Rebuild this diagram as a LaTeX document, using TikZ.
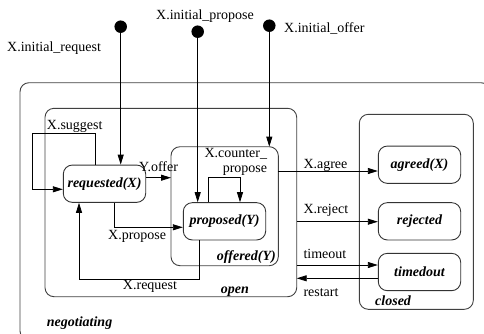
\documentclass[tikz,border=0pt]{standalone}
\usepackage{fontspec}
\setmainfont{Liberation Serif}
\usetikzlibrary{arrows.meta}
\begin{document}
\begin{tikzpicture}[x=1pt,y=-1pt,
  every node/.style={font=\fontsize{14}{15}\selectfont, inner sep=0pt},
  boxline/.style={draw=black!75, line width=0.9pt, rounded corners=9pt},
  statebox/.style={draw=black!80, line width=0.9pt, rounded corners=9pt},
  stname/.style={font=\fontsize{14}{15}\selectfont\bfseries\itshape},
  lbl/.style={font=\fontsize{14}{15}\selectfont},
  conn/.style={draw, line width=0.8pt, -{Triangle[length=10pt,width=6pt]}},
  dotst/.style={circle, fill=black, minimum size=12.5pt, inner sep=0pt}]
\useasboundingbox (0,0) rectangle (484,333);
\clip (0,0) rectangle (484,333);
% containers
\draw[boxline] (20,82.7) rectangle (490,340);
\node[stname, anchor=west] (lneg) at (46.7,323) {negotiating};
\draw[boxline] (45,108.3) rectangle (296.7,296.7);
\node[stname, anchor=east] (lopen) at (249,292) {open};
\draw[boxline] (171,146.7) rectangle (278.3,265.7);
\node[stname, anchor=east] (loff) at (276,256.7) {offered(Y)};
\draw[boxline] (359.3,114.3) rectangle (473.3,309.3);
\node[stname, anchor=west] (lclosed) at (375,301) {closed};
% states
\node[statebox, stname, minimum width=82.4pt, minimum height=37.3pt] (req) at (104.5,183.7) {requested(X)};
\node[statebox, stname, minimum width=82.4pt, minimum height=37.3pt] (prop) at (224.5,221.3) {proposed(Y)};
\node[statebox, stname, minimum width=82.4pt, minimum height=37.3pt] (agr) at (419.5,164.7) {agreed(X)};
\node[statebox, stname, minimum width=82.4pt, minimum height=37.3pt] (rej) at (419.5,221.3) {rejected};
\node[statebox, stname, minimum width=82.4pt, minimum height=37.3pt] (tmo) at (419.5,272) {timedout};
% initial dots
\node[dotst] (d1) at (120.7,26.7) {};
\node[dotst] (d2) at (197.7,31.7) {};
\node[dotst] (d3) at (269.3,25.7) {};
\node[lbl, anchor=west] (l1) at (7,48.3) {X.initial\_request};
\node[lbl] (l2) at (205,15.7) {X.initial\_propose};
\node[lbl, anchor=west] (l3) at (284,28.3) {X.initial\_offer};
\path[conn] (d1) -- (req.north -| d1);
\path[conn] (d2) -- (prop.north -| d2);
\path[conn] (d3) -- (d3 |- 0,146.7);
% X.suggest loop
\path[conn] (95.7,165) -- (95.7,133.3) -- (32.3,133.3) -- (32.3,189.3) -- (req.west |- 0,189.3);
\node[lbl, anchor=west] (lsug) at (46.7,126) {X.suggest};
% Y.offer
\path[conn] (req.east |- 0,177.7) -- (171,177.7);
\node[lbl, anchor=west] (lyoff) at (139,166.7) {Y.offer};
% X.propose
\path[conn] (req.south -| 114.3,0) -- (114.3,227.3) -- (prop.west |- 0,227.3);
\node[lbl, anchor=west] (lxprop) at (108,236.7) {X.propose};
% X.request
\path[conn] (prop.south -| 199,0) -- (199,279.3) -- (79,279.3) -- (req.south -| 79,0);
\node[lbl] (lxreq) at (150,286.7) {X.request};
% counter propose loop
\path[conn] (prop.north -| 208.3,0) -- (208.3,177.3) -- (240,177.3) -- (prop.north -| 240,0);
\node[lbl, anchor=east, align=right, font=\fontsize{14}{14.3}\selectfont] (lcp) at (267.3,162) {X.counter\_\\propose};
% to closed
\path[conn] (278.3,171) -- (agr.west |- 0,171);
\node[lbl, anchor=west] (lagree) at (303.3,165.5) {X.agree};
\path[conn] (296.7,221.7) -- (rej.west |- 0,221.7);
\node[lbl, anchor=west] (lrej) at (303.3,210) {X.reject};
\path[conn] (296.7,265) -- (tmo.west |- 0,265);
\node[lbl, anchor=west] (ltmo) at (303.3,254) {timeout};
\path[conn] (tmo.west |- 0,278.3) -- (296.7,278.3);
\node[lbl, anchor=west] (lrest) at (303.3,292.7) {restart};
\end{tikzpicture}
\end{document}
